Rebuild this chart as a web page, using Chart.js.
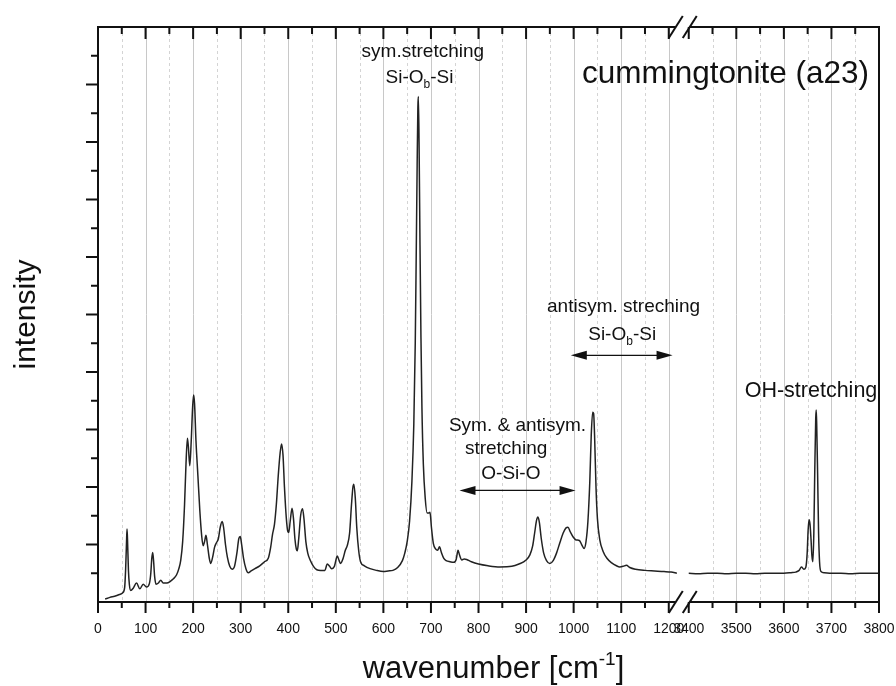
<!DOCTYPE html>
<html>
<head>
<meta charset="utf-8">
<script src="https://cdn.jsdelivr.net/npm/chart.js@4.4.0/dist/chart.umd.min.js"></script>
<style>
  html, body { margin: 0; padding: 0; background: #fff; }
  #wrap { width: 896px; height: 686px; }
</style>
</head>
<body>
<div id="wrap"><canvas id="spectrum"></canvas></div>
<script>
// Raman spectrum of cummingtonite, lattice + Si-O region (cm-1, arb. intensity)
const lowWavenumber = [
  15, 25, 35, 45, 52, 56, 58, 60, 61, 62, 64, 66, 69, 74, 81, 88, 95, 102, 108, 111,
  113, 115, 117, 119, 122, 127, 132, 137, 145, 152, 158, 165, 170, 174, 178, 182, 185, 188, 190, 193,
  196, 199, 201, 203, 206, 210, 214, 218, 221, 224, 227, 230, 234, 237, 241, 245, 249, 253, 257, 261,
  264, 268, 272, 277, 282, 287, 292, 296, 299, 302, 306, 311, 316, 322, 330, 340, 350, 358, 363, 367,
  371, 375, 379, 383, 386, 389, 392, 396, 399, 401, 404, 408, 411, 414, 417, 419, 422, 426, 430, 433,
  437, 441, 446, 453, 460, 468, 477, 482, 487, 491, 497, 503, 507, 510, 515, 520, 524, 529, 533, 536,
  538, 541, 544, 548, 552, 560, 572, 585, 600, 610, 620, 630, 640, 645, 650, 655, 660, 664, 667, 669,
  671, 672.5, 673.5, 675, 677, 679, 681, 684, 688, 692, 696, 698, 701, 705, 710, 714, 718, 722, 727, 732,
  740, 748, 753, 757, 760, 765, 770, 775, 785, 800, 820, 845, 870, 885, 900, 908, 914, 918, 922, 925,
  928, 932, 937, 943, 950, 957, 964, 971, 978, 984, 988, 993, 999, 1005, 1012, 1018, 1022, 1026, 1030, 1034,
  1037, 1040, 1042, 1044, 1047, 1050, 1055, 1062, 1070, 1080, 1090, 1097, 1104, 1111, 1118, 1130, 1150, 1170, 1190, 1205,
  1217
];
const lowIntensity = [
  0.05, 0.08, 0.10, 0.13, 0.16, 0.25, 0.55, 1.05, 1.27, 1.10, 0.55, 0.30, 0.20, 0.24, 0.33, 0.23, 0.31, 0.26, 0.32, 0.50,
  0.75, 0.86, 0.70, 0.45, 0.31, 0.33, 0.38, 0.33, 0.33, 0.36, 0.40, 0.47, 0.58, 0.73, 1.05, 1.70, 2.40, 2.85, 2.70, 2.37,
  2.80, 3.40, 3.60, 3.45, 2.80, 2.20, 1.60, 1.15, 0.98, 1.05, 1.16, 1.00, 0.76, 0.67, 0.78, 0.95, 1.03, 1.10, 1.30, 1.40,
  1.30, 1.00, 0.78, 0.62, 0.57, 0.62, 0.85, 1.10, 1.14, 1.00, 0.76, 0.58, 0.51, 0.54, 0.58, 0.63, 0.70, 0.76, 0.95, 1.18,
  1.35, 1.70, 2.20, 2.60, 2.75, 2.55, 2.00, 1.45, 1.23, 1.21, 1.40, 1.63, 1.45, 1.10, 0.92, 0.89, 1.10, 1.50, 1.62, 1.45,
  1.05, 0.85, 0.73, 0.62, 0.56, 0.55, 0.55, 0.66, 0.62, 0.58, 0.62, 0.80, 0.72, 0.67, 0.75, 0.90, 0.98, 1.20, 1.70, 2.00,
  2.05, 1.80, 1.30, 0.90, 0.70, 0.63, 0.58, 0.55, 0.53, 0.54, 0.55, 0.60, 0.72, 0.85, 1.05, 1.40, 2.10, 3.10, 4.50, 6.00,
  7.60, 8.60, 8.79, 8.00, 6.20, 4.60, 3.40, 2.40, 1.80, 1.55, 1.55, 1.56, 1.30, 1.02, 0.92, 0.90, 0.96, 0.86, 0.76, 0.72,
  0.70, 0.69, 0.74, 0.90, 0.82, 0.73, 0.75, 0.74, 0.70, 0.66, 0.63, 0.61, 0.62, 0.66, 0.73, 0.82, 0.98, 1.20, 1.42, 1.48,
  1.38, 1.10, 0.85, 0.72, 0.67, 0.72, 0.85, 1.03, 1.20, 1.29, 1.30, 1.22, 1.13, 1.08, 1.07, 0.98, 0.93, 1.05, 1.40, 2.10,
  2.90, 3.30, 3.28, 2.90, 2.00, 1.45, 1.08, 0.88, 0.76, 0.68, 0.63, 0.61, 0.62, 0.64, 0.60, 0.57, 0.55, 0.54, 0.53, 0.52,
  0.50
];

// OH-stretching region
const ohWavenumber = [
  3400, 3420, 3440, 3460, 3480, 3500, 3520, 3540, 3560, 3580, 3600, 3615, 3625, 3632, 3637, 3642, 3646, 3649, 3651, 3653,
  3655, 3657, 3659, 3661, 3663, 3665, 3667, 3668, 3669, 3671, 3673, 3675, 3678, 3685, 3700, 3720, 3740, 3760, 3780, 3800
];
const ohIntensity = [
  0.50, 0.49, 0.50, 0.50, 0.49, 0.50, 0.50, 0.49, 0.50, 0.50, 0.50, 0.51, 0.52, 0.55, 0.61, 0.57, 0.60, 0.85, 1.25, 1.43,
  1.35, 1.10, 0.80, 0.70, 1.20, 2.30, 3.20, 3.34, 3.10, 2.20, 1.20, 0.70, 0.53, 0.51, 0.50, 0.50, 0.49, 0.50, 0.50, 0.50
];

const xMajorTicks = [0, 100, 200, 300, 400, 500, 600, 700, 800, 900, 1000, 1100, 1200, 3400, 3500, 3600, 3700, 3800];
const xMinorTicks = [50, 150, 250, 350, 450, 550, 650, 750, 850, 950, 1050, 1150, 3450, 3550, 3650, 3750];
const xGridSolid = [100, 200, 300, 400, 500, 600, 700, 800, 900, 1000, 1100, 1200, 3500, 3600, 3700];
const yMajorTicks = [1, 2, 3, 4, 5, 6, 7, 8, 9];
const yMinorTicks = [0.5, 1.5, 2.5, 3.5, 4.5, 5.5, 6.5, 7.5, 8.5, 9.5];

// the axis is cut between 1200 and 3400; a short gap stays in between
const CUT_LO = 1200, CUT_HI = 3400, CUT_GAP = 42;
function toAxis(v) {
  return v < 2300 ? v : v - CUT_HI + CUT_LO + CUT_GAP;
}

const FONT = '"Liberation Sans", Arial, Helvetica, sans-serif';
const INK = '#111';

const annotations = [
  { parts: [{ t: 'sym.stretching' }], x: 683, y: 9.47, size: 19 },
  { parts: [{ t: 'Si-O' }, { t: 'b', sub: true }, { t: '-Si' }], x: 676, y: 9.03, size: 19 },
  { parts: [{ t: 'cummingtonite (a23)' }], x: 3779, y: 9.03, size: 31.5, align: 'right' },
  { parts: [{ t: 'antisym. streching' }], x: 1105, y: 5.04, size: 19 },
  { parts: [{ t: 'Si-O' }, { t: 'b', sub: true }, { t: '-Si' }], x: 1102, y: 4.56, size: 19 },
  { parts: [{ t: 'Sym. & antisym.' }], x: 882, y: 2.98, size: 19 },
  { parts: [{ t: 'stretching' }], x: 858, y: 2.57, size: 19 },
  { parts: [{ t: 'O-Si-O' }], x: 868, y: 2.14, size: 19 },
  { parts: [{ t: 'OH-stretching' }], x: 3657, y: 3.56, size: 21.5 }
];
const arrows = [
  { from: 994, to: 1208, y: 4.29 },
  { from: 760, to: 1004, y: 1.94 }
];

function drawRich(ctx, parts, x, y, size, align) {
  const small = Math.round(size * 0.62);
  let w = 0;
  parts.forEach(p => {
    ctx.font = (p.sub || p.sup ? small : size) + 'px ' + FONT;
    w += ctx.measureText(p.t).width;
  });
  let cx = align === 'right' ? x - w : x - w / 2;
  ctx.textAlign = 'left';
  ctx.textBaseline = 'alphabetic';
  parts.forEach(p => {
    ctx.font = (p.sub || p.sup ? small : size) + 'px ' + FONT;
    let dy = 0;
    if (p.sub) dy = size * 0.28;
    if (p.sup) dy = -size * 0.42;
    ctx.fillText(p.t, cx, y + dy);
    cx += ctx.measureText(p.t).width;
  });
}

function drawArrowHead(ctx, x, y, dir) {
  ctx.beginPath();
  ctx.moveTo(x, y);
  ctx.lineTo(x - dir * 16, y - 4.5);
  ctx.lineTo(x - dir * 16, y + 4.5);
  ctx.closePath();
  ctx.fill();
}

const frame = {
  id: 'frame',
  beforeDatasetsDraw(chart) {
    const { ctx, chartArea: a, scales: { x } } = chart;
    ctx.save();
    ctx.lineWidth = 1;
    ctx.strokeStyle = '#c8c8c8';
    xGridSolid.forEach(v => {
      const px = Math.round(x.getPixelForValue(toAxis(v))) + 0.5;
      ctx.beginPath(); ctx.moveTo(px, a.top); ctx.lineTo(px, a.bottom); ctx.stroke();
    });
    ctx.strokeStyle = '#d4d4d4';
    ctx.setLineDash([3, 3]);
    xMinorTicks.forEach(v => {
      const px = Math.round(x.getPixelForValue(toAxis(v))) + 0.5;
      ctx.beginPath(); ctx.moveTo(px, a.top); ctx.lineTo(px, a.bottom); ctx.stroke();
    });
    ctx.restore();
  },
  afterDatasetsDraw(chart) {
    const { ctx, chartArea: a, scales: { x, y } } = chart;
    const cutA = x.getPixelForValue(toAxis(CUT_LO)) + 7;
    const cutB = x.getPixelForValue(toAxis(CUT_HI)) + 1;
    ctx.save();
    ctx.strokeStyle = INK;
    ctx.lineWidth = 2;
    ctx.lineCap = 'butt';

    // box, with the cut in top and bottom edges
    ctx.beginPath();
    ctx.moveTo(cutA, a.bottom); ctx.lineTo(a.left, a.bottom); ctx.lineTo(a.left, a.top); ctx.lineTo(cutA, a.top);
    ctx.moveTo(cutB, a.top); ctx.lineTo(a.right, a.top); ctx.lineTo(a.right, a.bottom); ctx.lineTo(cutB, a.bottom);
    ctx.stroke();

    // x ticks: outward at the bottom, inward at the top
    const tick = (v, len) => {
      const px = x.getPixelForValue(toAxis(v));
      ctx.beginPath();
      ctx.moveTo(px, a.bottom); ctx.lineTo(px, a.bottom + len);
      ctx.moveTo(px, a.top); ctx.lineTo(px, a.top + len + 1);
      ctx.stroke();
    };
    xMajorTicks.forEach(v => tick(v, 11));
    xMinorTicks.forEach(v => tick(v, 6));

    // y ticks, outward
    yMajorTicks.forEach(v => {
      const py = y.getPixelForValue(v);
      ctx.beginPath(); ctx.moveTo(a.left, py); ctx.lineTo(a.left - 12, py); ctx.stroke();
    });
    yMinorTicks.forEach(v => {
      const py = y.getPixelForValue(v);
      ctx.beginPath(); ctx.moveTo(a.left, py); ctx.lineTo(a.left - 7, py); ctx.stroke();
    });

    // break marks
    const slash = (cx, cy) => {
      ctx.beginPath(); ctx.moveTo(cx - 7, cy + 11); ctx.lineTo(cx + 7, cy - 11); ctx.stroke();
    };
    [a.top, a.bottom].forEach(cy => {
      slash(cutA, cy);
      slash(cutB, cy);
    });

    // labels and arrows
    ctx.fillStyle = INK;
    annotations.forEach(n => {
      drawRich(ctx, n.parts, x.getPixelForValue(toAxis(n.x)), y.getPixelForValue(n.y), n.size, n.align);
    });
    ctx.lineWidth = 1.3;
    arrows.forEach(r => {
      const x1 = x.getPixelForValue(toAxis(r.from));
      const x2 = x.getPixelForValue(toAxis(r.to));
      const py = y.getPixelForValue(r.y);
      ctx.beginPath(); ctx.moveTo(x1 + 8, py); ctx.lineTo(x2 - 8, py); ctx.stroke();
      drawArrowHead(ctx, x1, py, -1);
      drawArrowHead(ctx, x2, py, 1);
    });

    // x axis title with superscript
    drawRich(ctx, [{ t: 'wavenumber [cm' }, { t: '-1', sup: true }, { t: ']' }],
      (a.left + a.right) / 2 + 5, 678, 31, 'center');
    ctx.restore();
  }
};

const toPoints = (xs, ys) => xs.map((v, i) => ({ x: toAxis(v), y: ys[i] }));

const lineStyle = {
  borderColor: '#222',
  borderWidth: 1.5,
  pointRadius: 0,
  fill: false,
  cubicInterpolationMode: 'monotone'
};

new Chart(document.getElementById('spectrum'), {
  type: 'line',
  data: {
    datasets: [
      Object.assign({ label: 'low', data: toPoints(lowWavenumber, lowIntensity) }, lineStyle),
      Object.assign({ label: 'OH', data: toPoints(ohWavenumber, ohIntensity) }, lineStyle)
    ]
  },
  options: {
    responsive: true,
    maintainAspectRatio: false,
    animation: false,
    events: [],
    layout: { padding: { top: 27, right: 17, left: 0, bottom: 0 } },
    plugins: { legend: { display: false }, tooltip: { enabled: false } },
    scales: {
      x: {
        type: 'linear',
        min: 0,
        max: toAxis(3800),
        grid: { display: false, drawTicks: false },
        border: { display: false },
        afterBuildTicks: (scale) => {
          scale.ticks = xMajorTicks.map(v => ({ value: toAxis(v) }));
        },
        afterFit: (scale) => {
          // the end labels may hang past the plot box
          scale.height = 84;
          scale.paddingLeft = 0;
          scale.paddingRight = 0;
        },
        ticks: {
          autoSkip: false,
          maxRotation: 0,
          minRotation: 0,
          padding: 19,
          color: INK,
          font: { family: FONT, size: 14 },
          callback: (value, index) => String(xMajorTicks[index])
        }
      },
      y: {
        min: 0,
        max: 10,
        grid: { display: false, drawTicks: false },
        border: { display: false },
        ticks: { display: false },
        afterFit: (scale) => { scale.width = 98; },
        title: {
          display: true,
          text: 'intensity',
          color: INK,
          padding: { top: 9, bottom: 0 },
          font: { family: FONT, size: 30 }
        }
      }
    }
  },
  plugins: [frame]
});
</script>
</body>
</html>
